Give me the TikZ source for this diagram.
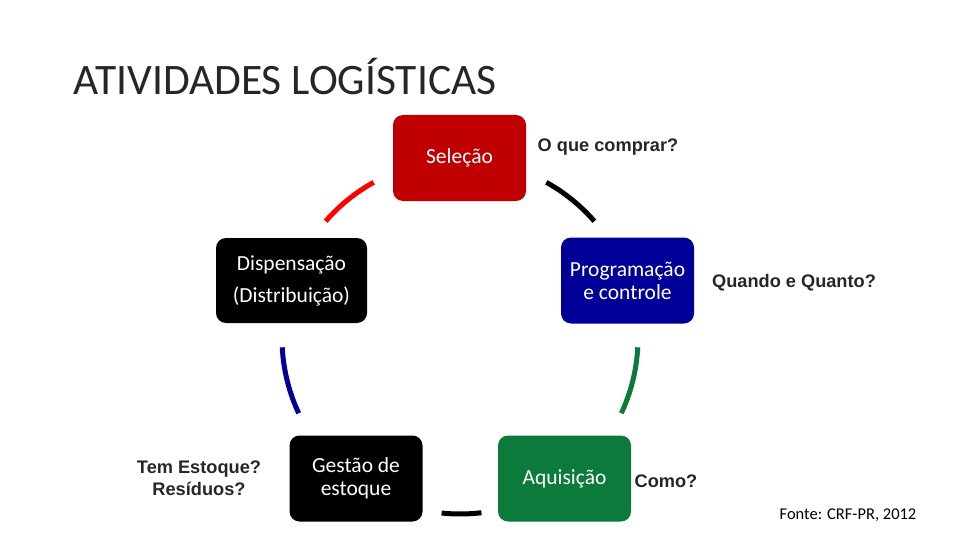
\documentclass[tikz,border=0pt]{standalone}
\usepackage{fontspec}
\setmainfont{Carlito}
\newfontfamily\askfont{Liberation Sans}
\usepackage{xcolor}
\usepackage{tikz}
\usetikzlibrary{positioning, calc}

\definecolor{selred}{HTML}{C00000}
\definecolor{prognavy}{HTML}{000099}
\definecolor{aqgreen}{HTML}{0B7A3B}

\begin{document}
\begin{tikzpicture}[x=1pt, y=-1pt,
    stagebox/.style={rounded corners=10pt, minimum width=133pt, minimum height=86pt,
      inner sep=0pt, align=center, text=white, font=\fontsize{21.5}{23}\selectfont},
    asktext/.style={align=center, font=\askfont\bfseries\fontsize{18.2}{22}\selectfont, text=black!85},
    ring/.style={line width=5pt}]
  \useasboundingbox (0,0) rectangle (960,540);

  % Title
  \node[anchor=west, font=\fontsize{43.5}{46}\selectfont, text=black!85] (title) at (70,76) {ATIVIDADES LOGÍSTICAS};

  % Stages
  \node[stagebox, fill=selred] (sel) at (459.5,158) {Seleção};
  \node[stagebox, fill=prognavy] (prog) at (627.5,280.5) {Programação\\e controle};
  \node[stagebox, fill=aqgreen] (aq) at (564.5,478.5) {Aquisição};
  \node[stagebox, fill=black] (gest) at (356,478.5) {Gestão de\\estoque};
  \node[stagebox, fill=black, minimum width=151pt, minimum height=85pt] (disp) at (291.5,280.5) {Dispensação\\[9pt](Distribuição)};

  % Ring pieces
  \coordinate (hub) at (460,338);
  \draw[ring, red] ($(hub)+(221:178)$) arc[start angle=221, end angle=241, radius=178];
  \draw[ring, black] ($(hub)+(299:178)$) arc[start angle=299, end angle=319, radius=178];
  \draw[ring, aqgreen] ($(hub)+(3:178)$) arc[start angle=3, end angle=25, radius=178];
  \draw[ring, black] ($(hub)+(96:176)$) arc[start angle=96, end angle=83, radius=176];
  \draw[ring, prognavy] ($(hub)+(155:178)$) arc[start angle=155, end angle=177, radius=178];

  % Questions
  \node[asktext] (q1) at (608,147) {O que comprar?};
  \node[asktext] (q2) at (794,283) {Quando e Quanto?};
  \node[asktext] (q3) at (666,481) {Como?};
  \node[asktext] (q4) at (199,478) {Tem Estoque?\\Resíduos?};

  % Source
  \node[font=\fontsize{16.5}{18}\selectfont] (src) at (848,515) {Fonte: CRF-PR, 2012};
\end{tikzpicture}
\end{document}
